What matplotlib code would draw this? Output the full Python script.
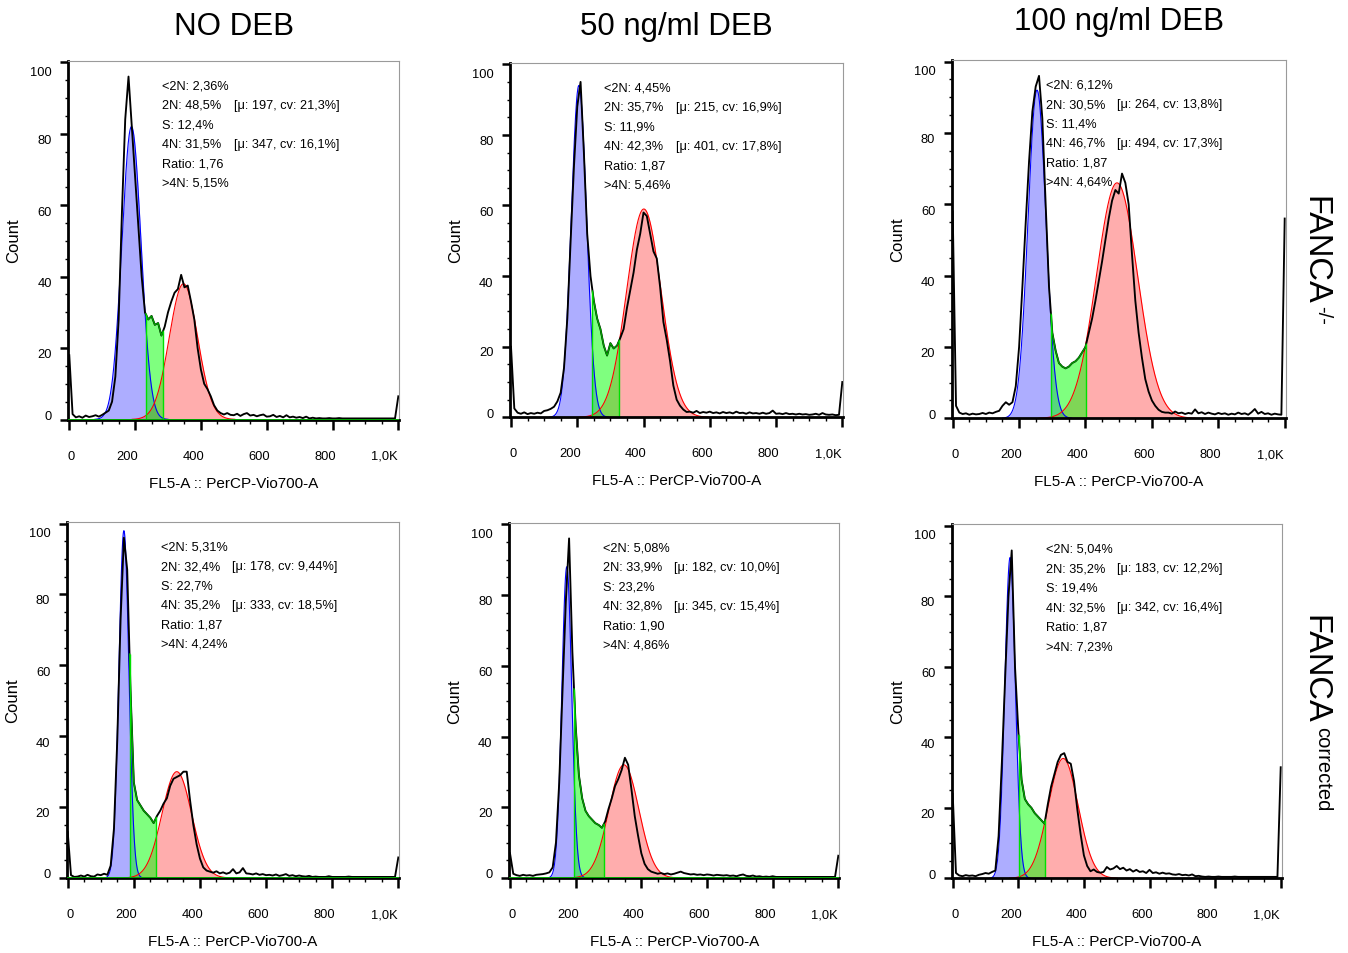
import numpy as np
import matplotlib
matplotlib.use("Agg")
import matplotlib.pyplot as plt
from matplotlib.ticker import FixedLocator, MultipleLocator
from matplotlib.transforms import ScaledTranslation

plt.rcParams["font.family"] = ["Liberation Sans", "DejaVu Sans"]

W, H = 1348, 954

treatments = ["NO DEB", "50 ng/ml DEB", "100 ng/ml DEB"]

# FL5-A channel (0 .. 1,0K), one count per bin of 10
channel = np.arange(0, 1001, 10)

counts_ko_nodeb = [
    18, 1.5, 0.6, 0.9, 0.5, 1.1, 0.7, 0.9, 1.2, 0.8,
    1.3, 1.9, 2.5, 5, 12, 28, 58, 84, 96, 82,
    68, 54, 40, 30, 28, 29, 26.5, 27, 23.5, 26,
    30, 33, 35.5, 36.5, 40.5, 37, 37.5, 33, 28, 20,
    14, 10, 8.5, 6.5, 4, 2.5, 1.8, 1.4, 1.8, 1.3,
    1.2, 1.6, 1.0, 1.5, 1.8, 1.1, 1.3, 0.9, 1.2, 1.4,
    0.8, 0.9, 1.3, 0.7, 1.0, 0.6, 1.2, 0.6, 0.8, 0.5,
    0.7, 0.4, 0.8, 0.3, 0.5, 0.3, 0.4, 0.3, 0.3, 0.4,
    0.3, 0.3, 0.4, 0.3, 0.3, 0.3, 0.3, 0.3, 0.3, 0.3,
    0.3, 0.3, 0.3, 0.3, 0.3, 0.3, 0.3, 0.3, 0.3, 0.3,
    6.5]
counts_ko_deb50 = [
    20, 2.5, 1.3, 1.0, 1.4, 0.9, 1.2, 1.0, 1.3, 1.1,
    1.8, 2.0, 2.4, 3.0, 4.5, 7, 14, 28, 50, 71,
    88, 95, 75, 52, 40, 33, 28, 25, 20.3, 17.5,
    21, 19.5, 20.3, 22.5, 25, 31, 36, 41, 47.5, 52,
    58, 57, 52, 47, 45, 37, 27, 22, 16, 9,
    5, 3.3, 2.2, 1.5, 1.6, 1.3, 1.8, 1.2, 1.5, 1.3,
    1.6, 1.2, 1.4, 1.1, 1.5, 1.2, 1.4, 1.1, 1.6, 1.2,
    1.3, 1.0, 1.4, 1.1, 1.2, 1.0, 1.3, 1.0, 1.2, 1.9,
    1.0, 1.1, 0.9, 1.2, 0.9, 1.0, 0.8, 1.0, 0.8, 0.9,
    0.7, 0.8, 1.0, 0.7, 1.2, 0.8, 0.7, 0.8, 0.6, 0.7,
    10]
counts_ko_deb100 = [
    58, 3.5, 1.6, 1.2, 1.4, 1.0, 1.3, 1.1, 1.2, 1.5,
    1.2, 1.6, 1.4, 1.8, 2.1, 3.5, 4.5, 3.8, 4.5, 9,
    20, 37, 55, 72, 86, 93, 96, 84, 60, 37,
    24, 19, 15.5, 14.5, 14, 14.5, 15.5, 16, 17, 18.5,
    20, 24, 28, 33, 38.5, 44, 50, 56, 61, 64,
    63, 68.6, 66, 60, 46, 33, 24, 17, 11, 7.5,
    5, 3.5, 2.4, 1.8, 1.6, 1.6, 1.3, 1.9, 1.4, 1.6,
    1.2, 1.5, 1.3, 2.5, 1.4, 1.7, 1.2, 1.6, 1.3, 1.1,
    1.5, 1.2, 1.4, 1.0, 1.3, 1.1, 1.6, 1.2, 1.4, 1.0,
    1.7, 2.6, 1.3, 1.8, 1.2, 1.4, 1.0, 1.3, 1.1, 1.0,
    56]
counts_cor_nodeb = [
    13, 0.8, 0.3, 0.4, 0.7, 0.4, 0.9, 0.5, 0.4, 1.0,
    0.8, 1.2, 0.9, 3.5, 14, 39, 73, 96, 87, 53,
    27, 22, 20.5, 19, 18, 17, 15.5, 17.5, 19, 21,
    22.5, 26, 28, 28.5, 29, 30, 30, 22, 15, 9.5,
    5.5, 3, 2.1, 1.8, 1.5, 1.9, 1.3, 1.6, 1.2, 1.5,
    2.5, 1.3, 1.6, 2.8, 1.3, 1.2, 1.0, 1.3, 0.9, 1.1,
    0.8, 0.9, 0.7, 1.0, 0.6, 0.8, 1.1, 0.6, 0.8, 0.5,
    0.7, 0.5, 0.4, 0.6, 0.3, 0.4, 0.3, 0.3, 0.3, 0.5,
    0.3, 0.3, 0.3, 0.3, 0.3, 0.4, 0.3, 0.3, 0.3, 0.3,
    0.3, 0.3, 0.3, 0.3, 0.3, 0.3, 0.3, 0.3, 0.3, 0.3,
    5.8]
counts_cor_deb50 = [
    7, 1.2, 0.8, 0.6, 0.9, 0.7, 0.8, 0.6, 0.9, 1.0,
    1.1, 1.3, 1.6, 3, 10, 27, 53, 78, 96, 64,
    43, 29, 22.5, 19, 17.5, 16.5, 15.5, 15, 14.2, 16,
    19.5, 22.5, 26, 28, 30.5, 34, 32, 25, 17.5, 12,
    7, 4, 2.5, 1.8, 1.5, 1.2, 1.4, 1.1, 1.3, 1.0,
    1.2, 1.5, 1.8, 1.4, 1.2, 1.0, 1.1, 0.9, 1.0, 0.8,
    1.0, 0.9, 0.7, 0.9, 0.8, 0.7, 0.8, 0.6, 0.7, 0.5,
    0.8, 1.0, 0.6, 0.5, 0.7, 0.4, 0.5, 0.3, 0.4, 0.3,
    0.5, 0.3, 0.3, 0.3, 0.3, 0.3, 0.3, 0.3, 0.3, 0.3,
    0.3, 0.3, 0.3, 0.3, 0.3, 0.3, 0.3, 0.3, 0.3, 0.3,
    6.3]
counts_cor_deb100 = [
    24, 1.5, 0.8, 0.6, 0.9, 0.7, 0.8, 0.6, 1.0, 1.2,
    1.5, 1.3, 1.8, 2.2, 12, 33, 57, 80, 93, 60,
    42, 28, 22.5, 21, 20, 18.5, 17.5, 16.5, 15.5, 21,
    26, 29.5, 33, 35, 35.5, 33, 32.5, 27.5, 19.5, 12.5,
    6.5, 3.5, 2, 2.5, 1.8, 1.6, 1.8, 3.2, 2.5, 2.8,
    3.5, 2.6, 3.0, 2.2, 2.6, 1.9, 2.4, 1.8, 2.0, 1.5,
    2.4, 1.5, 1.7, 1.3, 1.6, 1.3, 1.4, 1.1, 1.0, 1.2,
    0.9, 1.0, 0.8, 1.1, 0.6, 0.7, 0.5, 0.4, 0.5, 0.4,
    0.4, 0.5, 0.4, 0.4, 0.4, 0.4, 0.5, 0.4, 0.4, 0.4,
    0.4, 0.4, 0.4, 0.4, 0.4, 0.4, 0.4, 0.4, 0.4, 0.4,
    31.5]

counts = [counts_ko_nodeb, counts_ko_deb50, counts_ko_deb100,
          counts_cor_nodeb, counts_cor_deb50, counts_cor_deb100]

# cell cycle model: G1 / G2 gaussians and S-phase gate
g1_center = [189, 205, 254, 170, 173, 175]
g1_sd = [29, 23, 27, 15, 15, 16]
g1_height = [82, 94, 92, 98, 88, 91]
g2_center = [347, 401, 495, 330, 347, 337]
g2_sd = [43, 52, 62, 44.6, 45.5, 45.5]
g2_height = [38, 59, 66, 30, 32, 34]
s_start = [232, 246, 296, 187, 195, 201]
s_end = [285, 327, 402, 268, 286, 282]

# statistics printed in each panel
pct_sub2n = ["2,36", "4,45", "6,12", "5,31", "5,08", "5,04"]
pct_2n = ["48,5", "35,7", "30,5", "32,4", "33,9", "35,2"]
mu_2n = ["197", "215", "264", "178", "182", "183"]
cv_2n = ["21,3", "16,9", "13,8", "9,44", "10,0", "12,2"]
pct_s = ["12,4", "11,9", "11,4", "22,7", "23,2", "19,4"]
pct_4n = ["31,5", "42,3", "46,7", "35,2", "32,8", "32,5"]
mu_4n = ["347", "401", "494", "333", "345", "342"]
cv_4n = ["16,1", "17,8", "17,3", "18,5", "15,4", "16,4"]
ratio = ["1,76", "1,87", "1,87", "1,87", "1,90", "1,87"]
pct_over4n = ["5,15", "5,46", "4,64", "4,24", "4,86", "7,23"]

# axes boxes in pixels: left, right, top, bottom
boxes = [(68.3, 399.3, 61.5, 420.5), (510.0, 843.3, 63.5, 418.3),
         (951.7, 1285.7, 60.8, 419.3), (66.7, 399.3, 522.8, 879.0),
         (509.0, 839.3, 523.5, 879.0), (951.7, 1281.7, 525.0, 879.3)]
title_y = [27, 27, 22]

fig = plt.figure(figsize=(W / 100, H / 100), dpi=100)
px = fig.dpi_scale_trans


def gauss(x, c, s, h):
    return h * np.exp(-0.5 * ((x - c) / s) ** 2)


for k in range(6):
    l, r, t, b = boxes[k]
    ax = fig.add_axes([l / W, 1 - b / H, (r - l) / W, (b - t) / H])
    y = np.array(counts[k], dtype=float)
    xs = np.arange(0, 1001, 1.0)

    g1 = gauss(xs, g1_center[k], g1_sd[k], g1_height[k])
    m1 = g1 > 0.05
    ax.fill_between(xs[m1], g1[m1], color="#0000ff", alpha=0.32, lw=0, zorder=1)
    ax.plot(xs[m1], g1[m1], color="#0000ff", lw=0.8, zorder=1.5)

    g2 = gauss(xs, g2_center[k], g2_sd[k], g2_height[k])
    m2 = g2 > 0.05
    ax.fill_between(xs[m2], g2[m2], color="#ff0000", alpha=0.32, lw=0, zorder=1)
    ax.plot(xs[m2], g2[m2], color="#ff0000", lw=0.8, zorder=1.5)

    # S phase: data between the two gates
    lo, hi = s_start[k], s_end[k]
    inside = (channel > lo) & (channel < hi)
    sx = np.concatenate([[lo], channel[inside], [hi]])
    sy = np.concatenate([[np.interp(lo, channel, y)], y[inside],
                         [np.interp(hi, channel, y)]])
    ax.fill_between(sx, sy, color="#00ff00", alpha=0.5, lw=0, zorder=1.2)

    ax.plot(channel, y, color="black", lw=1.35, zorder=2)
    ax.plot(sx, sy, color="#00a000", lw=1.0, zorder=2.1)
    ax.vlines([lo, hi], 0, [sy[0], sy[-1]], color="#00e000", lw=1.0, zorder=2.1)
    ax.axhline(0.15, color="#00c000", lw=0.6, zorder=2.6)

    ax.set_xlim(-3, 1003)
    ax.set_ylim(0, 100.5)

    for side in ("top", "right"):
        ax.spines[side].set_color("#9a9a9a")
        ax.spines[side].set_linewidth(0.8)
    for side in ("left", "bottom"):
        ax.spines[side].set_color("black")
        ax.spines[side].set_linewidth(2.0)

    ax.xaxis.set_major_locator(FixedLocator([0, 200, 400, 600, 800, 1000]))
    ax.set_xticklabels(["0", "200", "400", "600", "800", "1,0K"])
    ax.xaxis.set_minor_locator(MultipleLocator(50))
    ax.yaxis.set_major_locator(FixedLocator([0, 20, 40, 60, 80, 100]))
    ax.set_yticklabels(["0", "20", "40", "60", "80", "100"])
    ax.yaxis.set_minor_locator(MultipleLocator(5))

    ax.tick_params(axis="x", which="major", direction="out", length=7.2,
                   width=1.8, pad=14.5, labelsize=9.3)
    ax.tick_params(axis="x", which="minor", direction="out", length=2.8,
                   width=1.0)
    ax.tick_params(axis="y", which="major", direction="out", length=5.8,
                   width=1.8, pad=6.0, labelsize=9.3)
    ax.tick_params(axis="y", which="minor", direction="out", length=2.4,
                   width=1.0)

    for lab, dx in zip(ax.get_xticklabels(), [2, -7.5, -7.5, -7.5, -7.5, -14]):
        lab.set_transform(lab.get_transform() + ScaledTranslation(dx / 100, 0, px))
    for lab, dy in zip(ax.get_yticklabels(), [5, -4.3, -5, -5, -4.3, -8]):
        lab.set_transform(lab.get_transform() + ScaledTranslation(0, dy / 100, px))

    wpx, hpx = r - l, b - t
    ax.text(-54.5 / wpx, 0.5, "Count", rotation=90, ha="center", va="center",
            fontsize=12, transform=ax.transAxes)
    ax.text(0.5, -63 / hpx, "FL5-A :: PerCP-Vio700-A", ha="center",
            va="center", fontsize=11, transform=ax.transAxes)

    col1 = 94 / wpx
    col2 = 165.5 / wpx
    rows = [
        (f"<2N: {pct_sub2n[k]}%", None),
        (f"2N: {pct_2n[k]}%", f"[\u03bc: {mu_2n[k]}, cv: {cv_2n[k]}%]"),
        (f"S: {pct_s[k]}%", None),
        (f"4N: {pct_4n[k]}%", f"[\u03bc: {mu_4n[k]}, cv: {cv_4n[k]}%]"),
        (f"Ratio: {ratio[k]}", None),
        (f">4N: {pct_over4n[k]}%", None),
    ]
    for i, (a, bb) in enumerate(rows):
        yy = 1 - (25 + 19.4 * i) / hpx
        ax.text(col1, yy, a, ha="left", va="center", fontsize=9.2,
                transform=ax.transAxes)
        if bb:
            ax.text(col2, yy, bb, ha="left", va="center", fontsize=9.2,
                    transform=ax.transAxes)

    if k < 3:
        fig.text((l + r) / 2 / W, 1 - title_y[k] / H, treatments[k],
                 ha="center", va="center", fontsize=22.5)

# genotype labels on the right
fig.text(1306.7 / W, 1 - 195.5 / H, "FANCA", rotation=-90, rotation_mode="anchor",
         ha="left", va="baseline", fontsize=23.5)
fig.text(1316.7 / W, 1 - 306 / H, "-/-", rotation=-90, rotation_mode="anchor",
         ha="left", va="baseline", fontsize=14.5)
fig.text(1306.7 / W, 1 - 615.5 / H, "FANCA", rotation=-90, rotation_mode="anchor",
         ha="left", va="baseline", fontsize=23.5)
fig.text(1316.7 / W, 1 - 727 / H, "corrected", rotation=-90, rotation_mode="anchor",
         ha="left", va="baseline", fontsize=14.5)

fig.savefig("out.png", dpi=100)
